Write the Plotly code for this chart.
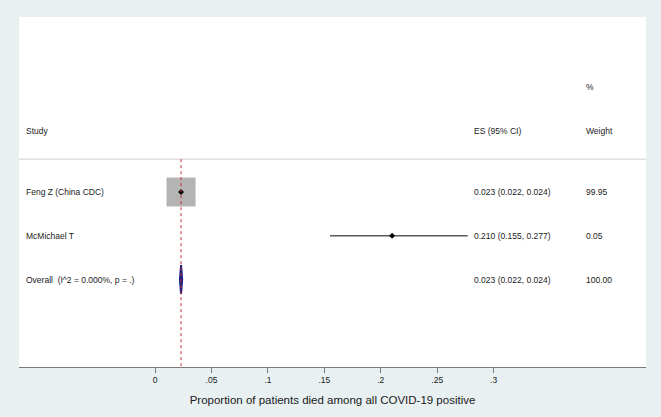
import plotly.graph_objects as go

# ---- data ----
studies = ["Feng Z (China CDC)", "McMichael T"]
es = [0.023, 0.210]
lo = [0.022, 0.155]
hi = [0.024, 0.277]
weights = ["99.95", "0.05"]
es_labels = ["0.023 (0.022, 0.024)", "0.210 (0.155, 0.277)"]
overall_label = "Overall  (I^2 = 0.000%, p = .)"
overall_es = 0.023
overall_lo = 0.022
overall_hi = 0.024
overall_text = "0.023 (0.022, 0.024)"
overall_weight = "100.00"
tick_vals = [0, 0.05, 0.1, 0.15, 0.2, 0.25, 0.3]
tick_text = ["0", ".05", ".1", ".15", ".2", ".25", ".3"]
x_title = "Proportion of patients died among all COVID-19 positive"

rows = [1, 2]
overall_row = 3

XMIN, XMAX = -0.1206, 0.435
TXT = "#1a1a1a"
FONT = "Liberation Sans, Arial, sans-serif"

fig = go.Figure()

# separator line under header
fig.add_shape(type="line", xref="paper", x0=0, x1=1, y0=0.25, y1=0.25,
              line=dict(color="#d9d9d9", width=1.2), layer="below")

# dashed reference line at overall estimate
fig.add_shape(type="line", x0=overall_es, x1=overall_es, y0=0.25, y1=5.0,
              line=dict(color="#d0283a", width=1, dash="3px,3px"), layer="above")

# weight box for Feng (big square)
fig.add_trace(go.Scatter(x=[es[0]], y=[rows[0]], mode="markers",
                         marker=dict(symbol="square", size=29, color="#b4b4b4",
                                     line=dict(width=0)),
                         hoverinfo="skip", showlegend=False))

# CI lines
for i in range(len(studies)):
    fig.add_trace(go.Scatter(x=[lo[i], hi[i]], y=[rows[i], rows[i]], mode="lines",
                             line=dict(color="#5a5a5a", width=1.6),
                             hoverinfo="skip", showlegend=False))

# point estimates
fig.add_trace(go.Scatter(x=es, y=rows, mode="markers",
                         marker=dict(symbol="diamond", size=4.5, color="black"),
                         hoverinfo="skip", showlegend=False))

# overall diamond
fig.add_trace(go.Scatter(x=[overall_lo, overall_es, overall_hi, overall_es, overall_lo],
                         y=[overall_row, overall_row - 0.33, overall_row,
                            overall_row + 0.33, overall_row],
                         mode="lines", fill="toself", fillcolor="#1a237e",
                         line=dict(color="#1a237e", width=2),
                         hoverinfo="skip", showlegend=False))

# text columns
def txt(x, y, s, xref="x"):
    fig.add_annotation(x=x, y=y, xref=xref, yref="y", text=s, showarrow=False,
                       xanchor="left", yanchor="middle",
                       font=dict(family=FONT, size=8.5, color=TXT))

X_STUDY = (24 - 19) / (645.7 - 19)
X_ES = (472 - 19) / (645.7 - 19)
X_W = (584 - 19) / (645.7 - 19)

txt(X_STUDY, -0.4, "Study", "paper")
txt(X_ES, -0.4, "ES (95% CI)", "paper")
txt(X_W, -1.4, "%", "paper")
txt(X_W, -0.4, "Weight", "paper")
for i in range(len(studies)):
    txt(X_STUDY, rows[i], studies[i], "paper")
    txt(X_ES, rows[i], es_labels[i], "paper")
    txt(X_W, rows[i], weights[i], "paper")
txt(X_STUDY, overall_row, overall_label, "paper")
txt(X_ES, overall_row, overall_text, "paper")
txt(X_W, overall_row, overall_weight, "paper")

fig.update_layout(
    width=661, height=417,
    margin=dict(l=19, r=15.3, t=17, b=50),
    paper_bgcolor="#e8f0f2",
    plot_bgcolor="white",
    font=dict(family=FONT, color=TXT),
    xaxis=dict(range=[XMIN, XMAX], tickvals=tick_vals, ticktext=tick_text,
               showgrid=False, zeroline=False, showline=True,
               linecolor="#7a7a7a", linewidth=1.2,
               ticks="outside", ticklen=5, tickcolor="#7a7a7a", tickwidth=1,
               tickfont=dict(size=8.5, family=FONT, color=TXT),
               title=dict(text=x_title, font=dict(size=11.5, family=FONT, color=TXT),
                          standoff=11)),
    yaxis=dict(range=[5.0, -3.0], showgrid=False, zeroline=False,
               showticklabels=False, showline=False, fixedrange=True),
)

fig.write_html("out.html", config={"displayModeBar": False},
               post_script="document.body.style.margin='0';")
